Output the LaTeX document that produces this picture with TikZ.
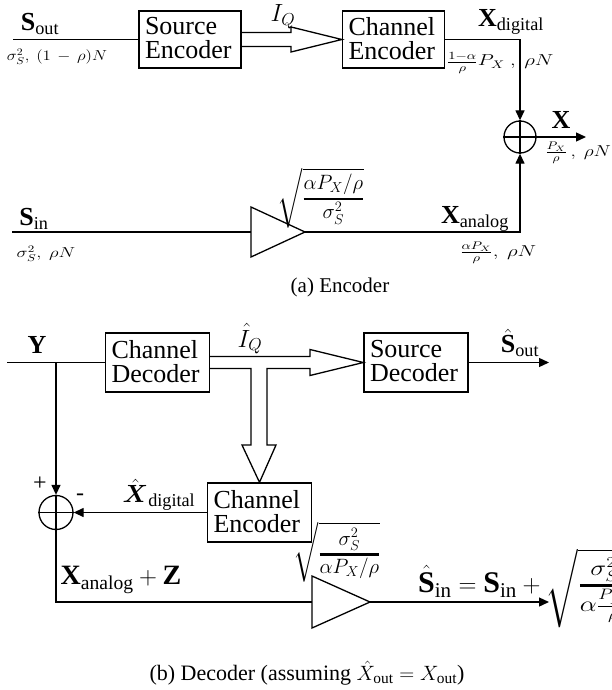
\documentclass[tikz,border=0pt]{standalone}
\usepackage{amsmath}
\usepackage{graphicx}
\usepackage{fontspec}
\setmainfont{Liberation Serif}
\usetikzlibrary{arrows.meta}
\newcommand\bigf{\fontsize{26}{24}\selectfont}
\newcommand\bigff{\fontsize{28}{30}\selectfont}
\newcommand\biggf{\fontsize{30}{32}\selectfont}
\newcommand\smallf{\fontsize{14}{16}\selectfont}
\newcommand\capf{\fontsize{21}{24}\selectfont}
\newcommand\capff{\fontsize{22}{24}\selectfont}
\newcommand\pmf{\fontsize{24}{26}\selectfont}
\newcommand\sqf{\fontsize{29}{32}\selectfont}
\begin{document}
\begin{tikzpicture}[x=1pt,y=-1pt,
  every node/.style={inner sep=0pt},
  lw/.style={line width=1.3pt},
  arr/.style={lw,-{Triangle[length=10pt,width=9pt]}},
  blk/.style={draw,lw,align=left,inner xsep=6pt,text width=#1,
    minimum height=57pt,text depth=27pt,font=\bigf},
  blk/.default=90pt,
  sumc/.style={draw,lw,circle,minimum size=#1},
  lab/.style={font=\bigf},
  slab/.style={font=\smallf},
  captxt/.style={font=\capf}]
\useasboundingbox (0,0) rectangle (612,690);

% ---------------- Encoder ----------------
\node[blk] (se) at (190,39.5) {Source\\Encoder};
\node[blk] (ce1) at (393.5,39.5) {Channel\\Encoder};
\coordinate (soutl) at (13,39.5);
\draw[lw] (soutl) -- (se.west);
\draw[lw,line join=miter] (se.east |- 0,32.5) -- (291,32.5) -- (291,27)
  -- (ce1.west) -- (291,52) -- (291,46.5) -- (se.east |- 0,46.5);
\node[sumc=32pt] (sum1) at (520,137) {};
\draw[lw] (sum1.north) -- (sum1.south) (sum1.west) -- (sum1.east);
\coordinate (xdc) at (520,39.5);
\draw[arr] (ce1.east) -- (xdc) -- (sum1.north);
\coordinate (xout) at (586,137);
\draw[arr] (sum1.east) -- (xout);
\coordinate (sinl) at (12,232);
\coordinate (a1in) at (251,232);
\coordinate (a1out) at (305,232);
\draw[lw,line join=miter] (251,207) -- (a1out) -- (251,257) -- cycle;
\draw[lw] (sinl) -- (a1in);
\coordinate (xac) at (520,232);
\draw[arr] (a1out) -- (xac) -- (sum1.south);

\node[lab] (lsout) at (40,24) {$\mathbf{S}_{\mathrm{out}}$};
\node[slab] (lsoutp) at (57,57) {\scalebox{1.17}[1]{$\sigma_S^2,\ (1\,-\,\rho)N$}};
\node[lab] (liq) at (283,17) {$I_Q$};
\node[lab] (lxd) at (511,22) {$\mathbf{X}_{\mathrm{digital}}$};
\node[slab] (lxdp) at (500,63) {\scalebox{1.45}[1.1]{$\frac{1-\alpha}{\rho}P_X\ ,\ \rho N$}};
\node[lab] (lx) at (561,120) {$\mathbf{X}$};
\node[slab] (lxp) at (578,153) {\scalebox{1.35}[1.1]{$\frac{P_X}{\rho}\,,\ \rho N$}};
\node[lab] (lsin) at (34,219) {$\mathbf{S}_{\mathrm{in}}$};
\node[slab] (lsinp) at (46,254) {\scalebox{1.3}[1]{$\sigma_S^2,\ \rho N$}};
\node[font=\sqf] (lg1) at (321,198) {$\sqrt{\genfrac{}{}{2.5pt}{1}{\alpha P_X/\rho}{\sigma_S^2}}$};
\node[lab] (lxa) at (475,219) {$\mathbf{X}_{\mathrm{analog}}$};
\node[slab] (lxap) at (498,253) {\scalebox{1.45}[1.1]{$\frac{\alpha P_X}{\rho},\ \rho N$}};
\node[captxt] (capa) at (340,287) {(a) Encoder};

% ---------------- Decoder ----------------
\node[blk=92pt,minimum height=59pt] (cd) at (157.5,362.5) {Channel\\Decoder};
\node[blk=92pt,minimum height=59pt] (sd) at (416,362.5) {Source\\Decoder};
\node[blk=92pt,minimum height=59pt] (ce2) at (259.5,512.5) {Channel\\Encoder};
\coordinate (yl) at (7,362.5);
\coordinate (yb) at (56,362.5);
\draw[lw] (yl) -- (cd.west);
\draw[lw,line join=miter] (cd.east |- 0,356.5) -- (310,356.5) -- (310,349.5)
  -- (sd.west) -- (310,375.5) -- (310,368.5) -- (267,368.5) -- (267,445)
  -- (276,445) -- (ce2.north) -- (242,445) -- (251,445) -- (251,368.5)
  -- (cd.east |- 0,368.5);
\coordinate (soutr) at (549,362.5);
\draw[arr] (sd.east) -- (soutr);
\node[sumc=34pt] (sum2) at (56,512.5) {};
\draw[lw] (sum2.north) -- (sum2.south) (sum2.west) -- (sum2.east);
\draw[arr] (yb) -- (sum2.north);
\draw[arr] (ce2.west) -- (sum2.east);
\coordinate (a2in) at (312,602);
\coordinate (a2out) at (370,602);
\draw[lw,line join=miter] (312,576) -- (a2out) -- (312,628) -- cycle;
\coordinate (xzc) at (56,602);
\draw[lw] (sum2.south) -- (xzc) -- (a2in);
\coordinate (sinr) at (549,602);
\draw[arr] (a2out) -- (sinr);

\node[lab] (ly) at (37,345) {$\mathbf{Y}$};
\node[lab] (liqh) at (250,339) {$\hat{I}_Q$};
\node[lab] (lsouth) at (520,343) {$\hat{\mathbf{S}}_{\mathrm{out}}$};
\node[font=\pmf] (lplus) at (40,484) {+};
\node[font=\pmf] (lminus) at (80,497) {-};
\node[lab] (lxdh) at (159,495) {$\hat{\boldsymbol{X}}_{\mathrm{digital}}$};
\node[font=\bigff] (lxaz) at (121,580) {$\mathbf{X}_{\mathrm{analog}}+\mathbf{Z}$};
\node[font=\sqf] (lg2) at (337,552) {$\sqrt{\genfrac{}{}{2.5pt}{1}{\sigma_S^2}{\alpha P_X/\rho}}$};
\node[font=\biggf,anchor=base west] (lsinh) at (418,592) {$\hat{\mathbf{S}}_{\mathrm{in}}=\mathbf{S}_{\mathrm{in}}+\scalebox{1.3}[1.05]{$\sqrt{\genfrac{}{}{2.5pt}{1}{\sigma_S^2}{\alpha\frac{P_X}{\rho}}}$}$};
\node[font=\capff] (capb) at (307,673) {(b) Decoder (assuming $\hat{X}_{\mathrm{out}}=X_{\mathrm{out}}$)};
\end{tikzpicture}
\end{document}
